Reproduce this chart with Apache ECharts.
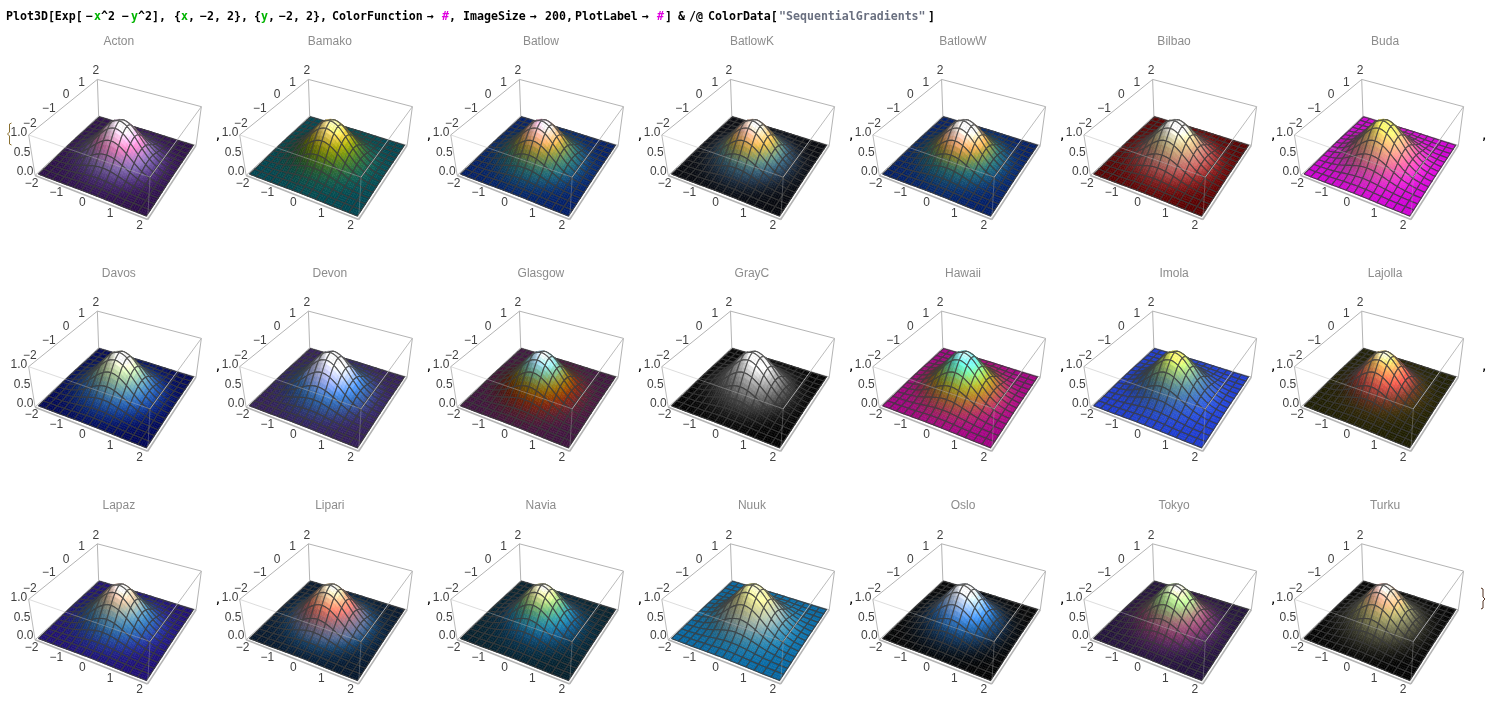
<!DOCTYPE html>
<html><head><meta charset="utf-8"><style>html,body{margin:0;padding:0;background:#fff}#c{width:1497px;height:710px}</style>
<script src="https://cdn.jsdelivr.net/npm/echarts@6/dist/echarts.min.js"></script></head><body><div id="c"></div>
<script>
const SCHEME_NAMES=["Acton","Bamako","Batlow","BatlowK","BatlowW","Bilbao","Buda","Davos","Devon","Glasgow","GrayC","Hawaii","Imola","Lajolla","Lapaz","Lipari","Navia","Nuuk","Oslo","Tokyo","Turku"];
const SCHEME_STOPS={
Acton:["#260c3f","#46306c","#6f5a96","#9c6aa6","#d272ac","#e8a0cc","#f0cce6","#f6eef9"],
Bamako:["#003c46","#0f4a3e","#25592f","#416a1e","#6b7f0a","#95930a","#c2ab35","#eacf6a","#ffe9a0"],
Batlow:["#011959","#0f3d5e","#1c5a62","#3c6d56","#687b3e","#988a30","#d09a4e","#f6ac85","#fdc4c0","#faccfa"],
BatlowK:["#04050a","#1a2a3c","#2e5266","#527a70","#8a8f50","#c4a040","#eeb070","#fdc4b0","#faebdd"],
BatlowW:["#011959","#0f3d5e","#1c5a62","#4a7350","#808133","#c09040","#f6ac70","#fdc8b0","#fff0e6","#ffffff"],
Bilbao:["#4c0000","#7a2222","#a04a48","#aa6a60","#b48a6a","#c0a878","#d0c8a0","#e8e4d8","#ffffff"],
Buda:["#b301b8","#bb2aa4","#c4498e","#cd6a80","#d58878","#dea270","#e6bc68","#eed860","#ffff66"],
Davos:["#00054a","#0e3078","#24579a","#437a9e","#6a9a98","#94b490","#c0d4a4","#e6eccc","#fefefe"],
Devon:["#2c1a4c","#283a70","#2a5a9a","#3f7ac8","#7a9ae6","#a8b4f0","#c8ccf4","#e6e6fa","#ffffff"],
Glasgow:["#361237","#4c1a22","#6a1e0c","#7c3a00","#7e5c06","#7a7c2e","#6a9a6e","#74b8b0","#a0d4e8","#d8e8ff"],
GrayC:["#000000","#222222","#444444","#666666","#888888","#aaaaaa","#cccccc","#e8e8e8","#ffffff"],
Hawaii:["#8c0273","#922a4a","#97542e","#9a7a1e","#9aa028","#86c05c","#66d8a0","#62ecd8","#b3f2fd"],
Imola:["#1a33b3","#2446ab","#30589f","#3f6c92","#52808a","#709a7c","#92b86c","#c0dc62","#ffff66"],
Lajolla:["#191900","#33270a","#5a2c1a","#8c3a30","#c4483f","#e0694a","#ea9350","#f2bd5c","#ffffcc"],
Lapaz:["#1a0c64","#1c2e80","#225092","#326e9e","#5a8aa2","#8c9e96","#bca88c","#ecc4ac","#fff2f3"],
Lipari:["#031326","#13385a","#47587a","#6b5f76","#8e616c","#bc6461","#e57b62","#e7a279","#e9c99f","#fdf5da"],
Navia:["#031b26","#08304a","#0f4e78","#1a7090","#338a88","#5ca070","#98bc70","#d4d890","#fcf5d9"],
Nuuk:["#05598c","#1f6a8e","#4a7f92","#7a9596","#9ba894","#b2b488","#c8c684","#e0e090","#fefeb2"],
Oslo:["#010101","#0c1f34","#133c68","#1f5ea0","#3c80d0","#70a0e4","#a4bee4","#d0d8e8","#ffffff"],
Tokyo:["#1c0e33","#43204c","#6c3058","#8a4a68","#907068","#90a070","#a0d080","#c8f0a0","#f0f8e0"],
Turku:["#000000","#26261e","#4a4a38","#6c6c4c","#94905c","#bca868","#dca87c","#f4b8a0","#ffe6e6"]};
const X_TICKS=[-2,-1,0,1,2], Y_TICKS=[-2,-1,0,1,2], Z_TICKS=[0,0.5,1];
const X_TICK_LABELS=["\u22122","\u22121","0","1","2"], Y_TICK_LABELS=["\u22122","\u22121","0","1","2"], Z_TICK_LABELS=["0.0","0.5","1.0"];
const HEIGHTS=[
[.000,.001,.002,.005,.009,.013,.017,.018,.017,.013,.009,.005,.002,.001,.000],
[.001,.003,.007,.014,.025,.038,.049,.053,.049,.038,.025,.014,.007,.003,.001],
[.002,.007,.017,.035,.062,.094,.120,.130,.120,.094,.062,.035,.017,.007,.002],
[.005,.014,.035,.073,.130,.195,.250,.271,.250,.195,.130,.073,.035,.014,.005],
[.009,.025,.062,.130,.230,.346,.443,.480,.443,.346,.230,.130,.062,.025,.009],
[.013,.038,.094,.195,.346,.520,.665,.721,.665,.520,.346,.195,.094,.038,.013],
[.017,.049,.120,.250,.443,.665,.850,.922,.850,.665,.443,.250,.120,.049,.017],
[.018,.053,.130,.271,.480,.721,.922,1.00,.922,.721,.480,.271,.130,.053,.018],
[.017,.049,.120,.250,.443,.665,.850,.922,.850,.665,.443,.250,.120,.049,.017],
[.013,.038,.094,.195,.346,.520,.665,.721,.665,.520,.346,.195,.094,.038,.013],
[.009,.025,.062,.130,.230,.346,.443,.480,.443,.346,.230,.130,.062,.025,.009],
[.005,.014,.035,.073,.130,.195,.250,.271,.250,.195,.130,.073,.035,.014,.005],
[.002,.007,.017,.035,.062,.094,.120,.130,.120,.094,.062,.035,.017,.007,.002],
[.001,.003,.007,.014,.025,.038,.049,.053,.049,.038,.025,.014,.007,.003,.001],
[.000,.001,.002,.005,.009,.013,.017,.018,.017,.013,.009,.005,.002,.001,.000]];
const HEADER_TOKENS=["Plot3D[Exp[","\u2212","x","^2","\u2212","y","^2],","{","x",",","\u22122,","2},","{","y",",","\u22122,","2},","ColorFunction","\u2192","#",",","ImageSize","\u2192","200,","PlotLabel","\u2192","#","]","&","/@","ColorData[","\"SequentialGradients\"","]"];
const HEADER_KINDS="kkgkkgkkgkkkkgkkkkkmkkkkkkmkkkkskk".split("");
const HEADER_X=[6,86,94,101,122,131,138,174,181,188,200,227,254,261,268,279,306,332,427,442,449,463,530,545,575,642,657,665,678,689,708,779,928];

const CAM=[1.3,-2.4,2];
const norm=v=>{const l=Math.hypot(...v);return v.map(a=>a/l)};
const dot=(a,b)=>a[0]*b[0]+a[1]*b[1]+a[2]*b[2];
const F=norm(CAM.map(a=>-a)), R=norm([F[1],-F[0],0]);
const U=[R[1]*F[2]-R[2]*F[1],R[2]*F[0]-R[0]*F[2],R[0]*F[1]-R[1]*F[0]];
function project(x,y,z){const p=[x/4.16-CAM[0],y/4.16-CAM[1],(z-.5)/1.04*.4-CAM[2]];const d=dot(p,F);return [dot(p,R)/d,dot(p,U)/d];}
const LIGHTS=[norm([1,0,1]),norm([1,1,1]),norm([0,1,1])], AMBIENT=.4, DIFFUSE=.34;
const SUB=3, N=HEIGHTS.length-1, CELL=4/N;
const hAt=(i,j)=>HEIGHTS[Math.max(0,Math.min(N,j))][Math.max(0,Math.min(N,i))];
const cr=(a,b,c,d,t)=>.5*(2*b+(c-a)*t+(2*a-5*b+4*c-d)*t*t+(3*b-a-3*c+d)*t*t*t);
function sample(u,v){const i=Math.min(N-1,Math.floor(u)),j=Math.min(N-1,Math.floor(v)),s=u-i,t=v-j,r=[];
  for(let k=-1;k<3;k++)r.push(cr(hAt(i-1,j+k),hAt(i,j+k),hAt(i+1,j+k),hAt(i+2,j+k),s));
  return Math.max(0,cr(r[0],r[1],r[2],r[3],t));}
const M=N*SUB, NODES=[];
for(let b=0;b<=M;b++){const row=[];for(let a=0;a<=M;a++){
  const u=a/SUB,v=b/SUB,z=sample(u,v),e=.08;
  const dx=(sample(Math.min(N,u+e),v)-sample(Math.max(0,u-e),v))/((Math.min(N,u+e)-Math.max(0,u-e))*CELL)*1.6;
  const dy=(sample(u,Math.min(N,v+e))-sample(u,Math.max(0,v-e)))/((Math.min(N,v+e)-Math.max(0,v-e))*CELL)*1.6;
  const n=norm([-dx,-dy,1]),nv=[dot(n,R),dot(n,U),-dot(n,F)];
  let li=AMBIENT;LIGHTS.forEach(l=>li+=DIFFUSE*Math.max(0,dot(nv,l)));
  row.push({p:project(-2+u*CELL,-2+v*CELL,z),z,li});}
 NODES.push(row);}
const CELLS=[];for(let i=0;i<N;i++)for(let j=N-1;j>=0;j--)CELLS.push([i,j]);
const BOX_BACK=[[[-2.08,-2.08,-.02],[-2.08,2.08,-.02]],[[-2.08,2.08,-.02],[2.08,2.08,-.02]],[[-2.08,2.08,-.02],[-2.08,2.08,1.02]],[[-2.08,2.08,1.02],[-2.08,-2.08,1.02]],[[-2.08,2.08,1.02],[2.08,2.08,1.02]],[[2.08,2.08,1.02],[2.08,2.08,-.02]]];
const BOX_FRONT=[[[-2.08,-2.08,1.02],[2.08,-2.08,1.02],.45,1],[[2.08,-2.08,1.02],[2.08,2.08,1.02],.9,1],[[2.08,-2.08,1.02],[2.08,-2.08,-.02],.35,1],[[-2.08,-2.08,1.02],[-2.08,-2.08,-.02],.9,1],[[-2.08,-2.08,-.02],[2.08,-2.08,-.02],1,1.6],[[2.08,-2.08,-.02],[2.08,2.08,-.02],1,1.6]];

const rgb=h=>[1,3,5].map(k=>parseInt(h.substr(k,2),16));
function palette(name){const s=SCHEME_STOPS[name].map(rgb);return t=>{const f=Math.max(0,Math.min(1,t))*(s.length-1),i=Math.min(s.length-2,Math.floor(f)),w=f-i;return s[i].map((c,k)=>c+(s[i+1][k]-c)*w)}}
const css=c=>`rgb(${c.map(a=>Math.round(Math.min(255,a))).join(",")})`;
const STEP_X=211.05, ORIGIN_X=119.3, ROW_Y=[140.6,372.3,605];
const PX=415, XR=.28, YR=.25;
const grid=[],xAxis=[],yAxis=[],series=[],title=[];
const BOX="#b4b4b4", TICK="#404040", FONT='"Liberation Sans"';

SCHEME_NAMES.forEach((name,k)=>{
  const c=k%7,r=Math.floor(k/7),cx=ORIGIN_X+STEP_X*c,cy=ROW_Y[r],pal=palette(name);
  grid.push({left:cx-XR*PX,width:2*XR*PX,top:cy-YR*PX,height:2*YR*PX,show:false});
  xAxis.push({type:"value",gridIndex:k,min:-XR,max:XR,show:false});
  yAxis.push({type:"value",gridIndex:k,min:-YR,max:YR,show:false});
  title.push({text:name,left:cx-.5,top:cy-105,textAlign:"center",padding:0,textStyle:{fontFamily:FONT,fontSize:12,fontWeight:"normal",color:"#8c8c8c"}});
  const common={type:"custom",coordinateSystem:"cartesian2d",xAxisIndex:k,yAxisIndex:k,silent:true,animation:false,clip:false,progressive:0};
  const seg=(api,e,opacity,w)=>({type:"polyline",silent:true,shape:{points:[api.coord(project(...e[0])),api.coord(project(...e[1]))]},style:{stroke:BOX,lineWidth:w,fill:null,opacity}});
  series.push({...common,z:1,data:[[0,0]],renderItem:(p,api)=>({type:"group",children:BOX_BACK.map(e=>seg(api,e,1,1))})});
  series.push({...common,z:2,data:CELLS,renderItem:(p,api)=>{
    const [i,j]=CELLS[p.dataIndex],kids=[];let sum=[0,0,0];
    for(let a=i*SUB;a<(i+1)*SUB;a++)for(let b=(j+1)*SUB-1;b>=j*SUB;b--){
      const q=[NODES[b][a],NODES[b][a+1],NODES[b+1][a+1],NODES[b+1][a]];
      const z=(q[0].z+q[1].z+q[2].z+q[3].z)/4, li=(q[0].li+q[1].li+q[2].li+q[3].li)/4;
      const col=pal(z).map(v=>v*li);col.forEach((v,n)=>sum[n]+=Math.min(255,v));
      const f=css(col);
      kids.push({type:"polygon",silent:true,shape:{points:q.map(n=>api.coord(n.p))},style:{fill:f,stroke:f,lineWidth:.5}});
    }
    const ring=[];
    for(let a=i*SUB;a<(i+1)*SUB;a++)ring.push(NODES[j*SUB][a]);
    for(let b=j*SUB;b<(j+1)*SUB;b++)ring.push(NODES[b][(i+1)*SUB]);
    for(let a=(i+1)*SUB;a>i*SUB;a--)ring.push(NODES[(j+1)*SUB][a]);
    for(let b=(j+1)*SUB;b>=j*SUB;b--)ring.push(NODES[b][i*SUB]);
    const mean=sum.map(v=>v/(SUB*SUB));
    const line=css(mean.map(v=>v*.12+62*.88));
    kids.push({type:"polyline",silent:true,shape:{points:ring.map(n=>api.coord(n.p))},style:{stroke:line,lineWidth:1.1,fill:null}});
    return {type:"group",children:kids};
  }});
  series.push({...common,z:3,data:[[0,0]],renderItem:(p,api)=>{
    const kids=BOX_FRONT.map(e=>seg(api,e,e[2],e[3]));
    const label=(t,pos,dx,dy,align)=>{const q=api.coord(project(...pos));return {type:"text",silent:true,style:{text:t,x:q[0]+dx,y:q[1]+dy,fill:TICK,font:`12px ${FONT}`,align,verticalAlign:"middle"}}};
    X_TICKS.forEach((v,n)=>kids.push(label(X_TICK_LABELS[n],[v,-2.08,-.02],-5.5,7,"center")));
    Y_TICKS.forEach((v,n)=>kids.push(label(Y_TICK_LABELS[n],[-2.08,v,1.02],-.5,-9.5,"center")));
    Z_TICKS.forEach((v,n)=>kids.push(label(Z_TICK_LABELS[n],[-2.08,-2.08,v],-1.5,-3,"right")));
    return {type:"group",children:kids};
  }});
});

const KIND_COLOR={k:"#000000",g:"#00b400",m:"#e000e0",s:"#6a7080"};
const graphic=HEADER_TOKENS.map((t,n)=>({type:"text",left:HEADER_X[n],top:11,silent:true,style:{text:t,fill:KIND_COLOR[HEADER_KINDS[n]],font:`${HEADER_KINDS[n]==="m"?"italic ":""}bold 11.6px "DejaVu Sans Mono"`}}));
[138,369.5,602.5].forEach((y,r)=>{for(let c=0;c<7;c++){if(r===2&&c===6)continue;
  graphic.push({type:"text",left:215+STEP_X*c,top:y-6,silent:true,style:{text:",",fill:"#000",font:'bold 10px "DejaVu Sans Mono"'}});}});
graphic.push({type:"polyline",silent:true,shape:{points:[[11.5,123],[9.5,124],[9.5,132],[7.5,134],[9.5,136],[9.5,144],[11.5,145]]},style:{stroke:"#8a7030",lineWidth:1,fill:null}});
graphic.push({type:"polyline",silent:true,shape:{points:[[1481,588],[1483,589],[1483,597],[1485,599],[1483,601],[1483,608],[1481,609]]},style:{stroke:"#503020",lineWidth:1,fill:null}});

const chart=echarts.init(document.getElementById("c"),null,{renderer:"canvas"});
chart.setOption({animation:false,backgroundColor:"#fff",tooltip:{show:false},title,grid,xAxis,yAxis,series,graphic});
</script></body></html>
